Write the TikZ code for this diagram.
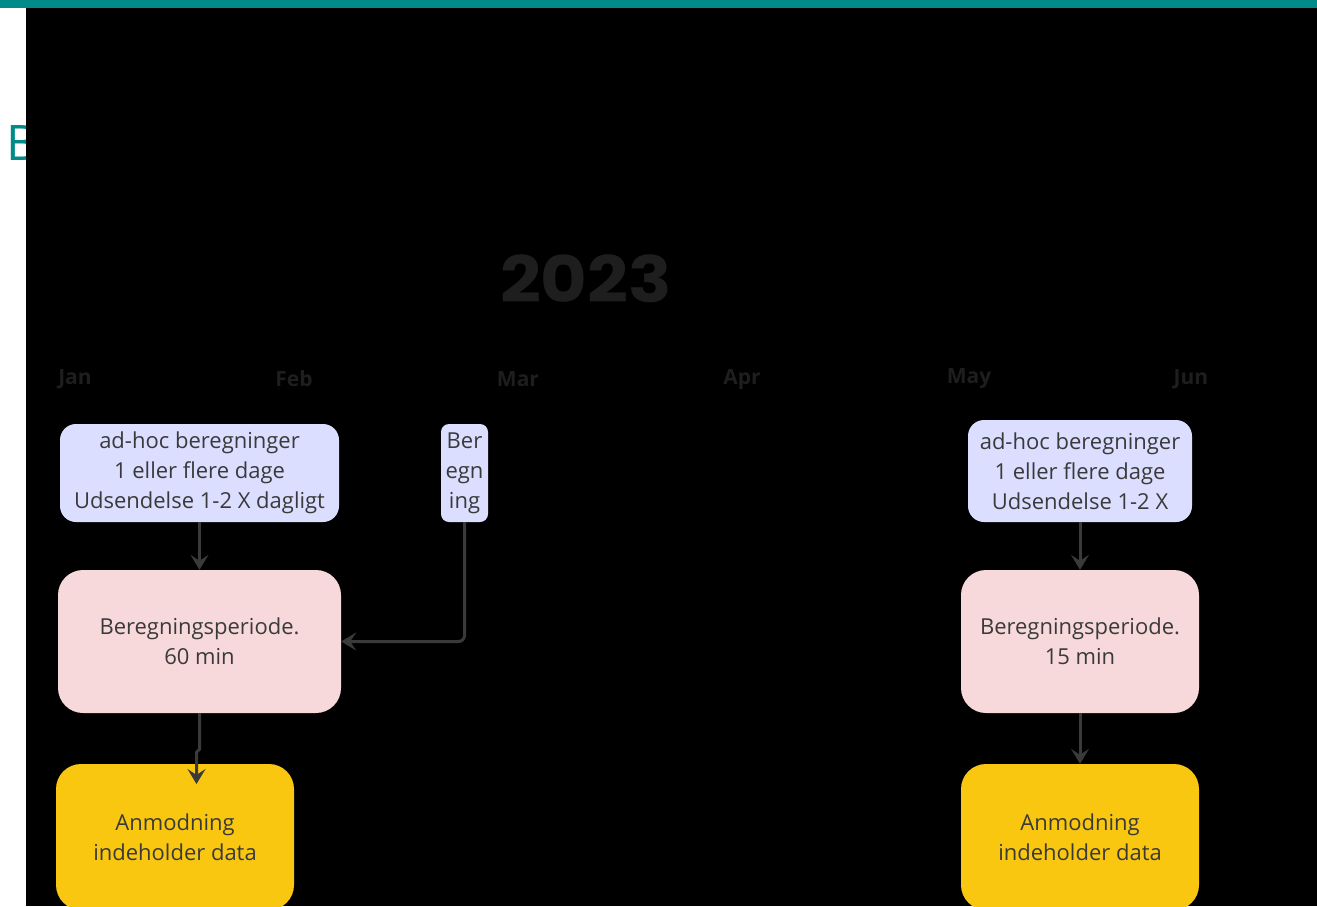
\documentclass[tikz,border=0pt]{standalone}
\usepackage{fontspec}
\setmainfont{Open Sans}
\newfontfamily\yearfont[FakeStretch=1.12]{Poppins}
\usetikzlibrary{arrows.meta}

\definecolor{teal}{RGB}{0,139,138}
\definecolor{lavender}{RGB}{219,222,255}
\definecolor{rose}{RGB}{248,217,219}
\definecolor{amber}{RGB}{250,199,16}
\definecolor{ink}{RGB}{58,58,58}
\definecolor{shade}{RGB}{30,30,30}

\tikzset{
	box/.style={draw=none, inner sep=0pt, align=center, text=ink,
		font=\fontsize{22}{30}\selectfont},
	adhoc/.style={box, fill=lavender, rounded corners=16pt},
	periode/.style={box, fill=rose, rounded corners=25pt},
	anmod/.style={box, fill=amber, rounded corners=25pt},
	arr/.style={draw=ink, line width=3pt,
		-{Stealth[length=15pt, width=18pt, inset=6pt]}},
}

\begin{document}
\begin{tikzpicture}[x=1pt, y=-1pt]

% frame %{{{2

	\useasboundingbox (0,0) rectangle (1317,906);
	\fill[white] (0,0) rectangle (1317,906);
	\node[anchor=base west, inner sep=0pt, text=teal,
		font=\fontsize{49}{49}\selectfont] (title) at (6,160) {B};
	\fill[black] (26,8) rectangle (1317,906);
	\fill[teal] (0,0) rectangle (1317,8);

% year and months %{{{2

	\node[text=shade, font=\yearfont\bfseries\fontsize{64}{64}\selectfont]
		(year) at (586,279) {2023};

	\foreach \m/\x in {Jan/75, Feb/294, Mar/518, Apr/742, May/969, Jun/1191} {
		\node[text=shade, font=\bfseries\fontsize{21}{21}\selectfont]
			(month-\m) at (\x,379) {\m};
	}

% boxes %{{{2

	\node[adhoc, minimum width=279pt, minimum height=98pt] (a1) at (199.5,473)
		{ad-hoc beregninger\\ 1 eller flere dage\\Udsendelse 1-2 X dagligt};
	\node[adhoc, rounded corners=8pt, minimum width=47pt, minimum height=98pt]
		(ber) at (464.5,473) {Ber\\egn\\ing};
	\node[periode, minimum width=283pt, minimum height=143pt] (p1) at (199.5,641.5)
		{Beregningsperiode.\\60 min};
	\node[anmod, minimum width=238pt, minimum height=146pt] (y1) at (175,837)
		{Anmodning\\indeholder data};

	\node[adhoc, minimum width=224pt, minimum height=102pt] (a2) at (1080,471)
		{ad-hoc beregninger\\ 1 eller flere dage\\Udsendelse 1-2 X};
	\node[periode, minimum width=238pt, minimum height=143pt] (p2) at (1080,641.5)
		{Beregningsperiode.\\15 min};
	\node[anmod, minimum width=238pt, minimum height=146pt] (y2) at (1080,837)
		{Anmodning\\indeholder data};

% connectors %{{{2

	\coordinate (y1in) at (196.5,784);

	\draw[arr] (a1.south) -- (p1.north);
	\draw[arr] (p1.south) -- ++(0,36) -- ++(-3,3) -- (y1in);
	\draw[arr, rounded corners=6pt] (ber.south) |- (p1.east);

	\draw[arr] (a2.south) -- (p2.north);
	\draw[arr] (p2.south) -- (y2.north);

% closing %{{{2

\end{tikzpicture}
\end{document}
